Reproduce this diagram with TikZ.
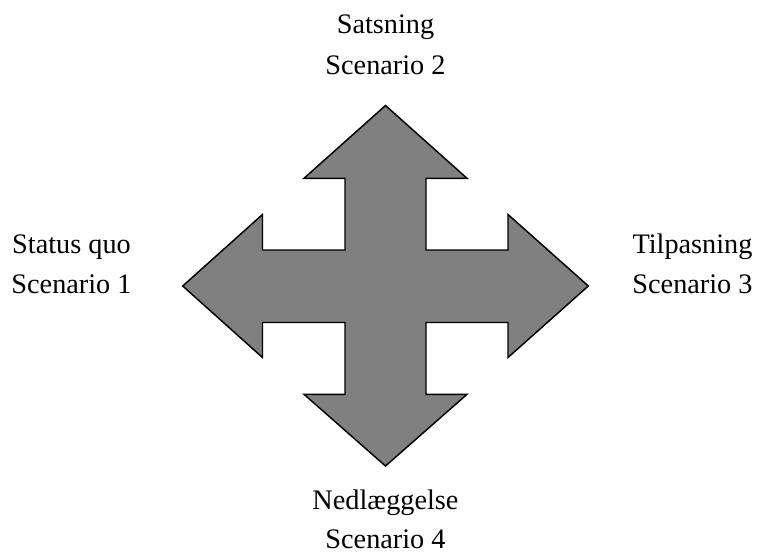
\documentclass[tikz,border=0pt]{standalone}
\usepackage{fontspec}
\setmainfont{Liberation Serif}
\begin{document}
\begin{tikzpicture}[x=0.75pt,y=-0.75pt,
  lbl/.style={anchor=base,inner sep=0pt,font=\fontsize{21.2pt}{30pt}\selectfont},
  cross/.style={fill=black!50,draw=black,line width=1.1pt,line join=miter}]
\useasboundingbox (0,0) rectangle (763,554);
\draw[cross] (385.5,105.5) -- (467,178.3) -- (426,178.3) -- (426,250) -- (508,250) -- (508,214.5)
  -- (588.3,286) -- (508,357.5) -- (508,322.5) -- (426,322.5) -- (426,394.3) -- (467,394.3)
  -- (385.5,466) -- (304,394.3) -- (345,394.3) -- (345,322.5) -- (262.5,322.5) -- (262.5,357.5)
  -- (182.7,286) -- (262.5,214.5) -- (262.5,250) -- (345,250) -- (345,178.3) -- (304,178.3) -- cycle;
\node[lbl] (t1) at (385.5,33.5) {Satsning};
\node[lbl] (t2) at (385.5,74) {Scenario 2};
\node[lbl] (l1) at (71.5,253.3) {Status quo};
\node[lbl] (l2) at (71.5,293.3) {Scenario 1};
\node[lbl] (r1) at (692.5,253.3) {Tilpasning};
\node[lbl] (r2) at (692.5,293.3) {Scenario 3};
\node[lbl] (b1) at (385.5,509) {Nedlæggelse};
\node[lbl] (b2) at (385.5,548.5) {Scenario 4};
\end{tikzpicture}
\end{document}
